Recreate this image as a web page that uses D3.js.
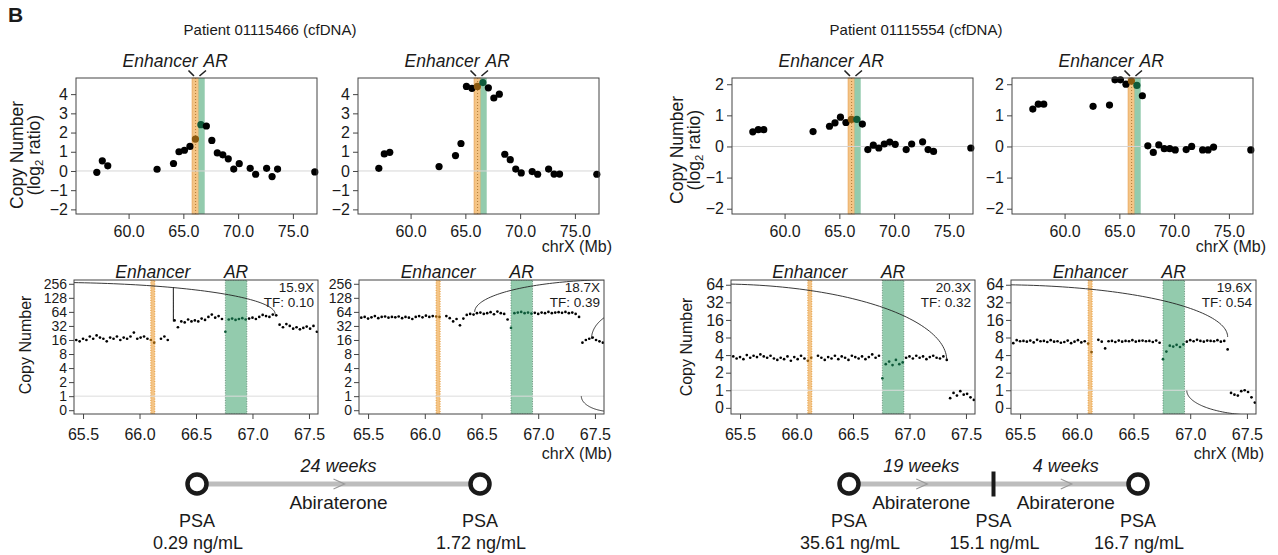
<!DOCTYPE html>
<html lang="en">
<head>
<meta charset="UTF-8">
<title>AR enhancer copy number</title>
<script src="https://cdn.jsdelivr.net/npm/d3@7"></script>
<style>
  body { margin: 0; background: #fff; }
  text { font-family: "Liberation Sans", Arial, Helvetica, sans-serif; fill: #1a1a1a; }
</style>
</head>
<body>
<script>
// ---------- data ----------
let patients = ['Patient 01115466 (cfDNA)', 'Patient 01115554 (cfDNA)'];

// top row: 0.5 Mb bins, log2 ratio
let binMb = [57.1, 57.6, 58.1, 62.6, 64.1, 64.6, 65.1, 65.6, 66.1, 66.6, 67.1, 67.6,
  68.1, 68.6, 69.1, 69.6, 70.1, 71.1, 71.6, 72.6, 73.1, 73.6, 77.0];
let log2A1 = [-0.07, 0.53, 0.27, 0.09, 0.39, 1.0, 1.08, 1.28, 1.66, 2.41, 2.34, 1.59,
  0.94, 0.84, 0.63, 0.1, 0.38, 0.14, -0.17, 0.14, -0.29, 0.1, -0.05];
let log2A2 = [0.14, 0.89, 0.97, 0.23, 0.8, 1.43, 4.4, 4.3, 4.4, 4.6, 4.33, 3.8,
  4.0, 0.87, 0.59, 0.1, -0.1, -0.03, -0.17, 0.1, -0.16, -0.16, -0.17];
let log2B1 = [0.47, 0.54, 0.54, 0.48, 0.65, 0.76, 0.94, 0.77, 0.87, 0.87, 0.72, -0.1,
  0.04, -0.05, 0.08, 0.14, 0.07, -0.1, 0.08, 0.15, -0.1, -0.16, -0.05];
let log2B2 = [1.2, 1.36, 1.36, 1.29, 1.33, 2.14, 2.14, 2.0, 2.1, 1.96, 1.63, 0.02,
  -0.19, 0.05, -0.07, -0.07, -0.11, -0.1, 0.0, -0.11, -0.11, -0.02, -0.11];
let topXTicks = [60, 65, 70, 75];

// bottom row: fine bins, copy number
let fineMb = [65.44, 65.47, 65.50, 65.53, 65.56, 65.59, 65.62, 65.65, 65.68, 65.71, 65.74, 65.77,
  65.80, 65.83, 65.86, 65.89, 65.92, 65.95, 65.98, 66.01, 66.04, 66.07, 66.10, 66.13,
  66.19, 66.22, 66.25, 66.28, 66.31, 66.34, 66.37, 66.40, 66.43, 66.46, 66.49, 66.52,
  66.55, 66.58, 66.61, 66.64, 66.67, 66.70, 66.73, 66.76, 66.79, 66.82, 66.85, 66.88,
  66.91, 66.94, 66.97, 67.00, 67.03, 67.06, 67.09, 67.12, 67.15, 67.18, 67.21, 67.24,
  67.27, 67.30, 67.33, 67.36, 67.39, 67.42, 67.45, 67.48, 67.51, 67.54, 67.57];
let cnA1 = [16, 15, 17, 16, 19, 17, 20, 18, 17, 15, 18, 17, 19, 16, 18, 17, 19, 23, 17, 18, 19, 17, 16, 14,
  17, 19, 16, null, 42, 30, 40, 38, 44, 40, 42, 40, 46, 43, 50, 56, 48, 52, 45, 24,
  44, 46, 43, 45, 47, 44, 46, 48, 45, 50, 55, 52, 50, 56, 54, 34, 30, 35, 32, 28, 30, 27, 29, 31, 28, 32, 24];
let cnA2 = [48, 50, 46, 49, 52, 47, 50, 51, 48, 50, 49, 51, 47, 50, 48, 45, 50, 52, 49, 53, 50, 52, 51, 50,
  52, 47, 40, 45, 33, 46, 55, 58, 56, 60, 62, 58, 60, 63, 57, 65, 60, 58, 44, 29,
  60, 62, 64, 60, 62, 59, 61, 58, 62, 60, 64, 60, 62, 63, 61, 64, 60, 62, 58, 50, 14, 16, 17, 18, 16, 15, 14];
let cnB1 = [3.8, 3.5, 3.7, 3.4, 4.0, 3.6, 3.9, 3.7, 4.1, 3.8, 3.6, 3.9, 3.5, 3.3, 3.6, 3.4, 3.8, 3.2, 3.7, 3.4, 3.9, 3.5, 3.2, 3.6,
  3.9, 3.6, 3.3, 3.7, 3.5, 3.9, 3.4, 3.8, 3.6, 3.3, 3.9, 3.7, 3.5, 3.8, 3.4, 3.7, 4.1, 3.6, 3.9, 1.6,
  2.8, 3.1, 2.7, 3.3, 2.8, 3.0, 3.6, 3.8, 3.5, 3.9, 3.6, 3.8, 3.4, 3.7, 3.9, 3.6, 3.5, 3.8, 3.3,
  0.55, 0.85, 0.7, 0.95, 0.75, 0.8, 0.6, 0.45];
let cnB2 = [6.4, 7.2, 6.9, 7.0, 6.8, 7.1, 6.6, 7.3, 6.9, 7.0, 6.7, 7.2, 6.8, 6.9, 6.5, 6.7, 7.1, 6.4, 6.8, 7.2, 6.6, 6.9, 6.3, 4.5,
  7.3, 6.8, 5.2, 6.9, 7.0, 6.7, 7.1, 6.8, 7.0, 6.9, 7.2, 6.8, 7.0, 7.1, 6.9, 7.0, 6.7, 7.1, 6.5, 3.4,
  4.6, 5.8, 5.6, 6.0, 5.5, 6.1, 6.8, 7.2, 6.9, 7.3, 7.0, 6.8, 7.1, 7.0, 6.9, 7.2, 6.8, 7.0, 5.0,
  0.85, 0.75, 0.7, 0.95, 1.0, 0.9, 0.6, 0.3];
let cnTicksA = [0, 1, 2, 4, 8, 16, 32, 64, 128, 256];
let cnTicksB = [0, 1, 2, 4, 8, 16, 32, 64];
let fineXTicks = [65.5, 66.0, 66.5, 67.0, 67.5];

// rearrangement arcs (breakpoints in Mb, copy number at foot and apex)
let arcsA1 = [{from: 63.2, to: 67.2, base: 58, top: 274}, {from: 66.3, to: 66.3, base: 40, top: 212}];
let arcsA2 = [{from: 66.44, to: 68.96, base: 64, top: 315}, {from: 67.47, to: 68.33, base: 17, top: 80},
  {from: 67.38, to: 67.92, base: 1, top: -0.1}];
let arcsB1 = [{from: 63.27, to: 67.33, base: 3.25, top: 66}];
let arcsB2 = [{from: 63.27, to: 67.33, base: 8.2, top: 64}, {from: 66.97, to: 68.23, base: 0.98, top: -0.42}];

let coverage = ['15.9X', '18.7X', '20.3X', '19.6X'];
let tumorFraction = ['0.10', '0.39', '0.32', '0.54'];

// regions
let binEnhancer = [65.8, 66.38];
let binAR = [66.38, 66.95];
let enhancer = [66.10, 66.135];
let arGene = [66.76, 66.95];

// treatment timelines
let psaLeft = ['0.29 ng/mL', '1.72 ng/mL'];
let weeksLeft = ['24 weeks'];
let psaRight = ['35.61 ng/mL', '15.1 ng/mL', '16.7 ng/mL'];
let weeksRight = ['19 weeks', '4 weeks'];
let drug = 'Abiraterone';

// ---------- drawing ----------
let width = 1278;
let height = 555;
let orangeFill = '#f4c485';
let greenFill = '#93cbad';
let orangeDot = '#8c5a10';
let greenDot = '#0f5a3a';
let frame = '#444';

let svg = d3.select('body').append('svg')
  .attr('width', width)
  .attr('height', height);

svg.append('text').attr('x', 8).attr('y', 22)
  .attr('font-size', 21).attr('font-weight', 'bold').text('B');

svg.selectAll('text.title')
  .data(patients)
  .enter()
  .append('text')
  .attr('class', 'title')
  .attr('x', function (d, i) { return i === 0 ? 270 : 916; })
  .attr('y', 35)
  .attr('text-anchor', 'middle')
  .attr('font-size', 15)
  .text(function (d) { return d; });

function cnPos(cn) {
  return cn >= 1 ? Math.log2(cn) + 1 : cn;
}

function styleAxis(g) {
  g.attr('font-size', 16)
    .attr('font-family', '"Liberation Sans", Arial, sans-serif')
    .attr('color', '#222');
  g.select('.domain').remove();
  g.selectAll('.tick line').attr('stroke', frame);
}

function yLabel(x, y, size, withLog) {
  let t = svg.append('text')
    .attr('transform', 'translate(' + x + ',' + y + ') rotate(-90)')
    .attr('text-anchor', 'middle')
    .attr('dy', '0.35em')
    .attr('font-size', size);
  if (!withLog) {
    t.text('Copy Number');
    return;
  }
  t.attr('dy', '-0.15em');
  t.append('tspan').attr('x', 0).text('Copy Number');
  t.append('tspan').attr('x', 0).attr('dy', '0.95em').text('(log');
  t.append('tspan').attr('font-size', size * 0.65).attr('dy', '0.3em').text('2');
  t.append('tspan').attr('dy', '-0.2em').text(' ratio)');
}

let topY0 = 214;
let topY1 = 78;
let topCols = [
  {left: 76, right: 317, vals: log2A1, ydom: [-2.24, 4.84], yticks: [-2, -1, 0, 1, 2, 3, 4]},
  {left: 358, right: 599, vals: log2A2, ydom: [-2.24, 4.84], yticks: [-2, -1, 0, 1, 2, 3, 4], chr: true},
  {left: 732, right: 973, vals: log2B1, ydom: [-2.17, 2.2], yticks: [-2, -1, 0, 1, 2]},
  {left: 1012, right: 1253, vals: log2B2, ydom: [-2.17, 2.2], yticks: [-2, -1, 0, 1, 2], chr: true}
];

topCols.forEach(function (c) {
  let x = d3.scaleLinear().domain([55.2, 77.2]).range([c.left, c.right]);
  let y = d3.scaleLinear().domain(c.ydom).range([topY0, topY1]);
  let g = svg.append('g');

  g.append('rect').attr('x', x(binEnhancer[0])).attr('y', topY1)
    .attr('width', x(binEnhancer[1]) - x(binEnhancer[0])).attr('height', topY0 - topY1)
    .attr('fill', orangeFill).attr('stroke', '#e8a65a').attr('stroke-width', 0.8);
  g.append('rect').attr('x', x(binAR[0])).attr('y', topY1)
    .attr('width', x(binAR[1]) - x(binAR[0])).attr('height', topY0 - topY1)
    .attr('fill', greenFill);
  g.append('line')
    .attr('x1', x(d3.mean(enhancer))).attr('x2', x(d3.mean(enhancer)))
    .attr('y1', topY1).attr('y2', topY0)
    .attr('stroke', '#b07a36').attr('stroke-dasharray', '1,2');
  g.append('line')
    .attr('x1', x.range()[0]).attr('x2', x.range()[1])
    .attr('y1', y(0)).attr('y2', y(0))
    .attr('stroke', '#d6d6d6');

  g.selectAll('circle')
    .data(c.vals)
    .enter()
    .append('circle')
    .attr('cx', function (d, i) { return x(binMb[i]); })
    .attr('cy', function (d) { return y(d); })
    .attr('r', 3.6)
    .attr('fill', function (d, i) {
      let m = binMb[i];
      if (m >= binEnhancer[0] && m < binEnhancer[1]) return orangeDot;
      if (m >= binAR[0] && m < binAR[1]) return greenDot;
      return '#000';
    });

  g.append('rect').attr('x', c.left).attr('y', topY1)
    .attr('width', c.right - c.left).attr('height', topY0 - topY1)
    .attr('fill', 'none').attr('stroke', frame);

  svg.append('g')
    .attr('transform', 'translate(' + c.left + ',0)')
    .call(d3.axisLeft(y).tickValues(c.yticks).tickSize(5).tickPadding(3).tickFormat(d3.format('d')))
    .call(styleAxis);
  svg.append('g')
    .attr('transform', 'translate(0,' + topY0 + ')')
    .call(d3.axisBottom(x).tickValues(topXTicks).tickSize(5).tickPadding(7).tickFormat(d3.format('.1f')))
    .call(styleAxis);

  // Enhancer / AR label with pointers
  let b = x(binAR[0]);
  svg.append('text').attr('x', b - 1).attr('y', 67).attr('text-anchor', 'end')
    .attr('font-size', 17.5).attr('font-style', 'italic').text('Enhancer');
  svg.append('text').attr('x', b + 5).attr('y', 67)
    .attr('font-size', 17.5).attr('font-style', 'italic').text('AR');
  svg.append('path')
    .attr('d', 'M' + (b - 10) + ',70.5L' + (b - 4.5) + ',76M' + (b + 1) + ',76L' + (b + 7.5) + ',70.5')
    .attr('stroke', '#222').attr('stroke-width', 1.6).attr('fill', 'none');

  if (c.chr) {
    svg.append('text').attr('x', c.right + 13).attr('y', 252).attr('text-anchor', 'end')
      .attr('font-size', 16).text('chrX (Mb)');
  }
});

yLabel(26, 155, 17.5, true);
yLabel(686, 150, 17.5, true);

let botY0 = 414;
let botY1 = 280;
let botCols = [
  {left: 74, right: 318, vals: cnA1, arcs: arcsA1, ticks: cnTicksA, ydom: [-0.27, 9.27], fs: 14},
  {left: 359, right: 604, vals: cnA2, arcs: arcsA2, ticks: cnTicksA, ydom: [-0.27, 9.27], fs: 14, chr: true},
  {left: 731, right: 975, vals: cnB1, arcs: arcsB1, ticks: cnTicksB, ydom: [-0.35, 7.27], fs: 16},
  {left: 1011, right: 1256, vals: cnB2, arcs: arcsB2, ticks: cnTicksB, ydom: [-0.35, 7.27], fs: 16, chr: true}
];

botCols.forEach(function (c, k) {
  let x = d3.scaleLinear().domain([65.42, 67.58]).range([c.left, c.right]);
  let y = d3.scaleLinear().domain(c.ydom).range([botY0, botY1]);
  let clipId = 'clip' + k;
  svg.append('clipPath').attr('id', clipId)
    .append('rect').attr('x', c.left).attr('y', botY1)
    .attr('width', c.right - c.left).attr('height', botY0 - botY1);
  let g = svg.append('g').attr('clip-path', 'url(#' + clipId + ')');

  g.append('rect').attr('x', x(enhancer[0])).attr('y', botY1)
    .attr('width', x(enhancer[1]) - x(enhancer[0])).attr('height', botY0 - botY1)
    .attr('fill', orangeFill).attr('stroke', '#e39a3c').attr('stroke-dasharray', '1,1.5');
  g.append('rect').attr('x', x(arGene[0])).attr('y', botY1)
    .attr('width', x(arGene[1]) - x(arGene[0])).attr('height', botY0 - botY1)
    .attr('fill', greenFill).attr('stroke', '#55806a').attr('stroke-width', 0.8)
    .attr('stroke-dasharray', '1,1.5');
  g.append('line')
    .attr('x1', c.left).attr('x2', c.right)
    .attr('y1', y(cnPos(1))).attr('y2', y(cnPos(1)))
    .attr('stroke', '#dcdcdc');

  let arcLine = d3.line()
    .x(function (d) { return x(d[0]); })
    .y(function (d) { return y(d[1]); });
  c.arcs.forEach(function (a) {
    let cx = (a.from + a.to) / 2;
    let rx = (a.to - a.from) / 2;
    let p0 = cnPos(a.base);
    let p1 = cnPos(a.top);
    let pts = d3.range(0, 121).map(function (j) {
      let t = Math.PI * j / 120;
      return [cx + rx * Math.cos(t), p0 + (p1 - p0) * Math.sin(t)];
    });
    g.append('path').attr('d', arcLine(pts))
      .attr('fill', 'none').attr('stroke', '#222').attr('stroke-width', 0.9);
  });

  let pts = c.vals.map(function (v, i) { return {mb: fineMb[i], cn: v}; })
    .filter(function (d) { return d.cn !== null; });
  g.selectAll('circle')
    .data(pts)
    .enter()
    .append('circle')
    .attr('cx', function (d) { return x(d.mb); })
    .attr('cy', function (d) { return y(cnPos(d.cn)); })
    .attr('r', 1.35)
    .attr('fill', function (d) {
      if (d.mb >= enhancer[0] - 0.001 && d.mb <= enhancer[1]) return orangeDot;
      if (d.mb >= arGene[0] && d.mb <= arGene[1]) return greenDot;
      return '#000';
    });

  svg.append('rect').attr('x', c.left).attr('y', botY1)
    .attr('width', c.right - c.left).attr('height', botY0 - botY1)
    .attr('fill', 'none').attr('stroke', frame);

  svg.append('g')
    .attr('transform', 'translate(' + c.left + ',0)')
    .call(d3.axisLeft(y).tickValues(c.ticks.map(cnPos)).tickSize(5).tickPadding(2)
      .tickFormat(function (d, i) { return c.ticks[i]; }))
    .call(styleAxis)
    .attr('font-size', c.fs);
  svg.append('g')
    .attr('transform', 'translate(0,' + botY0 + ')')
    .call(d3.axisBottom(x).tickValues(fineXTicks).tickSize(5).tickPadding(10).tickFormat(d3.format('.1f')))
    .call(styleAxis);

  svg.append('text').attr('x', x(d3.mean(enhancer))).attr('y', 278).attr('text-anchor', 'middle')
    .attr('font-size', 17.5).attr('font-style', 'italic').text('Enhancer');
  svg.append('text').attr('x', x(d3.mean(arGene))).attr('y', 278).attr('text-anchor', 'middle')
    .attr('font-size', 17.5).attr('font-style', 'italic').text('AR');

  svg.append('text').attr('x', c.right - 4).attr('y', botY1 + 12).attr('text-anchor', 'end')
    .attr('font-size', 13.5).text(coverage[k]);
  svg.append('text').attr('x', c.right - 4).attr('y', botY1 + 27).attr('text-anchor', 'end')
    .attr('font-size', 13.5).text('TF: ' + tumorFraction[k]);

  if (c.chr) {
    svg.append('text').attr('x', c.right + 8).attr('y', 459).attr('text-anchor', 'end')
      .attr('font-size', 16).text('chrX (Mb)');
  }
});

yLabel(25, 345, 16, false);
yLabel(686, 347, 16, false);

// ---------- timelines ----------
function timeline(psa, weeks, x0, x1) {
  let tx = d3.scalePoint().domain(d3.range(psa.length)).range([x0, x1]);
  let ty = 484;
  svg.append('line').attr('x1', x0).attr('x2', x1).attr('y1', ty).attr('y2', ty)
    .attr('stroke', '#bdbdbd').attr('stroke-width', 5);
  weeks.forEach(function (w, i) {
    let m = (tx(i) + tx(i + 1)) / 2;
    svg.append('path')
      .attr('d', 'M' + (m - 5) + ',' + (ty - 5) + 'L' + (m + 6) + ',' + ty + 'L' + (m - 5) + ',' + (ty + 5))
      .attr('fill', 'none').attr('stroke', '#999').attr('stroke-width', 1.2);
    svg.append('text').attr('x', m).attr('y', 472).attr('text-anchor', 'middle')
      .attr('font-size', 18).attr('font-style', 'italic').text(w);
    svg.append('text').attr('x', m).attr('y', 509).attr('text-anchor', 'middle')
      .attr('font-size', 19).text(drug);
  });
  psa.forEach(function (p, i) {
    let px = tx(i);
    if (i === 0 || i === psa.length - 1) {
      svg.append('circle').attr('cx', px).attr('cy', ty).attr('r', 9.5)
        .attr('fill', '#fff').attr('stroke', '#1a1a1a').attr('stroke-width', 4.5);
    } else {
      svg.append('rect').attr('x', px - 2).attr('y', ty - 12.5).attr('width', 4).attr('height', 25)
        .attr('fill', '#1a1a1a');
    }
    svg.append('text').attr('x', px).attr('y', 527).attr('text-anchor', 'middle')
      .attr('font-size', 18).text('PSA');
    svg.append('text').attr('x', px + 1).attr('y', 549).attr('text-anchor', 'middle')
      .attr('font-size', 18).text(p);
  });
}

timeline(psaLeft, weeksLeft, 197, 480);
timeline(psaRight, weeksRight, 849, 1138);
</script>
</body>
</html>
